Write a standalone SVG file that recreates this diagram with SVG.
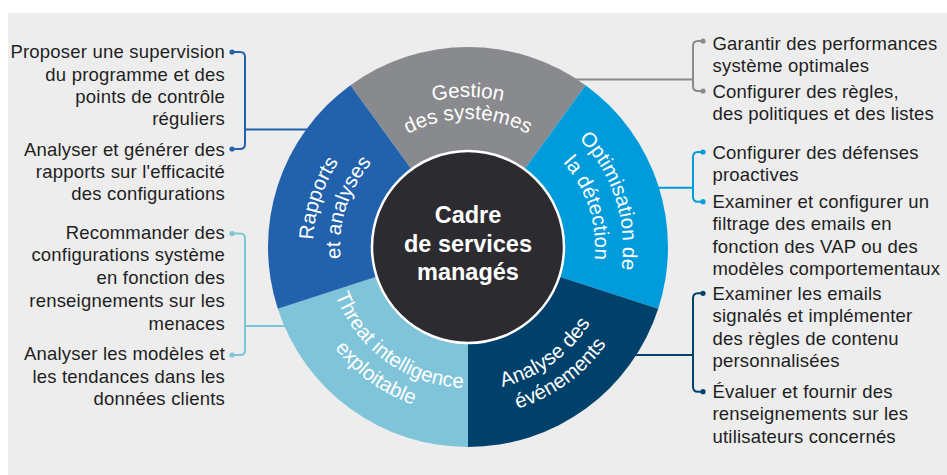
<svg xmlns="http://www.w3.org/2000/svg" width="947" height="475" viewBox="0 0 947 475">
<style>
.side{font-family:"Liberation Sans",Arial,Helvetica,sans-serif;font-size:18.5px;letter-spacing:0.2px;fill:#1e1e1e}
.l{text-anchor:end}
.seg{font-family:"Liberation Sans",Arial,Helvetica,sans-serif;font-size:20.5px;fill:#ffffff}
.ctr{font-family:"Liberation Sans",Arial,Helvetica,sans-serif;font-size:23.5px;font-weight:bold;fill:#ffffff;text-anchor:middle}
.br{fill:none;stroke-width:2}
</style>
<defs>
<path id="pGes" d="M320.28,220.95 A150,150 0 0 1 615.72,220.95"/>
<path id="pSys" d="M341.94,224.78 A128,128 0 0 1 594.06,224.78"/>
<path id="pRap" d="M395.23,383.85 A155,155 0 0 1 489.57,93.51"/>
<path id="pEtA" d="M407.9,360.01 A128,128 0 0 1 485.82,120.24"/>
<path id="pOpt" d="M446.43,93.51 A155,155 0 0 1 540.77,383.85"/>
<path id="pDet" d="M450.32,121.23 A127,127 0 0 1 527.63,359.13"/>
<path id="pAna" d="M367.96,350.58 A144,144 0 0 0 597.43,183.87"/>
<path id="pEve" d="M350.6,368.56 A169,169 0 0 0 619.9,172.91"/>
<path id="pThr" d="M341.27,185.19 A141,141 0 0 0 565.95,348.42"/>
<path id="pExp" d="M317.9,173.79 A167,167 0 0 0 584.01,367.12"/>
</defs>
<rect x="8" y="13" width="939" height="462" fill="#ededed"/>

<g id="connectors">
<path class="br" stroke="#2262ac" d="M232,52 H240 Q245,52 245,57 V144 Q245,149 240,149 H232 M245,129.5 H330"/>
<circle cx="232" cy="52" r="2.6" fill="#2262ac"/><circle cx="232" cy="149" r="2.6" fill="#2262ac"/>
<path class="br" stroke="#7fc4d9" d="M232,233.5 H240 Q245,233.5 245,238.5 V350 Q245,355 240,355 H232 M245,326 H300"/>
<circle cx="232" cy="233.5" r="2.6" fill="#7fc4d9"/><circle cx="232" cy="355" r="2.6" fill="#7fc4d9"/>
<path class="br" stroke="#8a8b8e" d="M703,41 H698 Q693,41 693,46 V86 Q693,91 698,91 H703 M693,79.5 H560"/>
<circle cx="703" cy="41" r="2.6" fill="#8a8b8e"/><circle cx="703" cy="91" r="2.6" fill="#8a8b8e"/>
<path class="br" stroke="#009bdb" d="M703,152 H698 Q693,152 693,157 V196.7 Q693,201.7 698,201.7 H703 M693,187.7 H640"/>
<circle cx="703" cy="152" r="2.6" fill="#009bdb"/><circle cx="703" cy="201.7" r="2.6" fill="#009bdb"/>
<path class="br" stroke="#00416b" d="M703,293.3 H698 Q693,293.3 693,298.3 V386.7 Q693,391.7 698,391.7 H703 M693,355 H620"/>
<circle cx="703" cy="293.3" r="2.6" fill="#00416b"/><circle cx="703" cy="391.7" r="2.6" fill="#00416b"/>
</g>

<g id="gestion">
<path d="M468,247 L350.44,85.2 A200,200 0 0 1 585.56,85.2 Z" fill="#898a8d"/>
<text class="seg"><textPath href="#pGes" startOffset="50%" text-anchor="middle">Gestion</textPath></text>
<text class="seg"><textPath href="#pSys" startOffset="50%" text-anchor="middle">des systèmes</textPath></text>
</g>
<g id="optimisation">
<path d="M468,247 L585.56,85.2 A200,200 0 0 1 658.21,308.8 Z" fill="#009bdb"/>
<text class="seg"><textPath href="#pOpt" startOffset="50%" text-anchor="middle">Optimisation de</textPath></text>
<text class="seg"><textPath href="#pDet" startOffset="50%" text-anchor="middle">la détection</textPath></text>
</g>
<g id="analyse">
<path d="M468,247 L658.21,308.8 A200,200 0 0 1 468,447 Z" fill="#00416b"/>
<text class="seg"><textPath href="#pAna" startOffset="50%" text-anchor="middle">Analyse des</textPath></text>
<text class="seg"><textPath href="#pEve" startOffset="50%" text-anchor="middle">événements</textPath></text>
</g>
<g id="threat">
<path d="M468,247 L468,447 A200,200 0 0 1 277.79,308.8 Z" fill="#7fc4d9"/>
<text class="seg"><textPath href="#pThr" startOffset="50%" text-anchor="middle">Threat intelligence</textPath></text>
<text class="seg"><textPath href="#pExp" startOffset="50%" text-anchor="middle">exploitable</textPath></text>
</g>
<g id="rapports">
<path d="M468,247 L277.79,308.8 A200,200 0 0 1 350.44,85.2 Z" fill="#2262ac"/>
<text class="seg"><textPath href="#pRap" startOffset="50%" text-anchor="middle">Rapports</textPath></text>
<text class="seg"><textPath href="#pEtA" startOffset="50%" text-anchor="middle">et analyses</textPath></text>
</g>
<g id="centre">
<circle cx="468" cy="247" r="96" fill="#2c2b30" stroke="#ffffff" stroke-width="2.5"/>
<text class="ctr" x="468" y="223">Cadre</text>
<text class="ctr" x="468" y="252">de services</text>
<text class="ctr" x="468" y="280">managés</text>
</g>

<g id="txt-rapports">
<text class="side l" x="225" y="58.3">Proposer une supervision</text>
<text class="side l" x="225" y="80.6">du programme et des</text>
<text class="side l" x="225" y="103">points de contrôle</text>
<text class="side l" x="225" y="125.3">réguliers</text>
<text class="side l" x="225" y="155.5">Analyser et générer des</text>
<text class="side l" x="225" y="177.8">rapports sur l'efficacité</text>
<text class="side l" x="225" y="200.1">des configurations</text>
</g>
<g id="txt-threat">
<text class="side l" x="225" y="238.5">Recommander des</text>
<text class="side l" x="225" y="261.3">configurations système</text>
<text class="side l" x="225" y="284.1">en fonction des</text>
<text class="side l" x="225" y="306.9">renseignements sur les</text>
<text class="side l" x="225" y="329.7">menaces</text>
<text class="side l" x="225" y="360">Analyser les modèles et</text>
<text class="side l" x="225" y="382.5">les tendances dans les</text>
<text class="side l" x="225" y="405">données clients</text>
</g>
<g id="txt-gestion">
<text class="side" x="712.5" y="49.5">Garantir des performances</text>
<text class="side" x="712.5" y="71.8">système optimales</text>
<text class="side" x="712.5" y="98">Configurer des règles,</text>
<text class="side" x="712.5" y="120.3">des politiques et des listes</text>
</g>
<g id="txt-optimisation">
<text class="side" x="712.5" y="158.5">Configurer des défenses</text>
<text class="side" x="712.5" y="180.8">proactives</text>
<text class="side" x="712.5" y="208">Examiner et configurer un</text>
<text class="side" x="712.5" y="230.3">filtrage des emails en</text>
<text class="side" x="712.5" y="252.6">fonction des VAP ou des</text>
<text class="side" x="712.5" y="274.9">modèles comportementaux</text>
</g>
<g id="txt-analyse">
<text class="side" x="712.5" y="300">Examiner les emails</text>
<text class="side" x="712.5" y="322.3">signalés et implémenter</text>
<text class="side" x="712.5" y="344.6">des règles de contenu</text>
<text class="side" x="712.5" y="366.9">personnalisées</text>
<text class="side" x="712.5" y="398">Évaluer et fournir des</text>
<text class="side" x="712.5" y="420.3">renseignements sur les</text>
<text class="side" x="712.5" y="442.6">utilisateurs concernés</text>
</g>
</svg>
